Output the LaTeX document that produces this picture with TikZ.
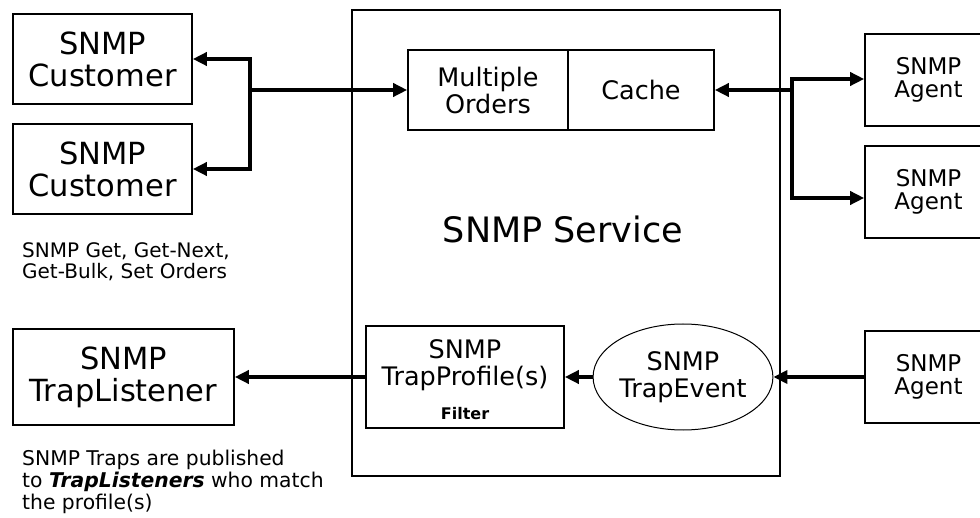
\documentclass[tikz,border=0pt]{standalone}
\usepackage{fontspec}
\setmainfont{DejaVu Sans}
\usetikzlibrary{arrows.meta,shapes.geometric}
\begin{document}
\begin{tikzpicture}[x=1pt,y=-1pt,
  box/.style={draw, line width=1.6pt, inner sep=0pt, align=center},
  big/.style={font=\fontsize{30.5}{32}\selectfont},
  mid/.style={font=\fontsize{25.5}{27}\selectfont},
  agt/.style={font=\fontsize{23}{23}\selectfont},
  note/.style={font=\fontsize{20}{21.5}\selectfont, align=left, anchor=north west, inner sep=0pt},
  conn/.style={line width=3.5pt, -{Triangle[length=14pt,width=13pt]}},
]
\clip (0,0) rectangle (980,518);
\fill[white] (0,0) rectangle (980,518);

\node[box, minimum width=428pt, minimum height=466pt] (svc) at (566,243) {};
\node[font=\fontsize{35}{35}\selectfont, anchor=base] (svct) at (563,243) {SNMP Service};

\node[box,big, minimum width=179pt, minimum height=90pt] (c1) at (102.5,59) {SNMP\\Customer};
\node[box,big, minimum width=179pt, minimum height=90pt] (c2) at (102.5,169) {SNMP\\Customer};
\node[box,big, minimum width=221pt, minimum height=96pt] (tl) at (123.5,377) {SNMP\\TrapListener};

\node[box,mid, minimum width=160pt, minimum height=80pt] (mo) at (488,90) {Multiple\\Orders};
\node[box,mid, minimum width=146pt, minimum height=80pt] (ca) at (641,90) {Cache};

\node[box, minimum width=198pt, minimum height=102pt] (tp) at (465,377) {};
\node[mid, align=center, inner sep=0pt] (tpt) at (465,365) {SNMP\\TrapProfile(s)};
\node[font=\fontsize{16}{16}\selectfont\bfseries, anchor=base, inner sep=0pt] (flt) at (465,420) {Filter};

\node[draw, ellipse, line width=1pt, minimum width=168pt, minimum height=106pt, inner sep=0pt, align=center, mid] (te) at (683,377) {SNMP\\TrapEvent};

\node[box,agt, minimum width=127pt, minimum height=92pt] (a1) at (928.5,80) {SNMP\\Agent};
\node[box,agt, minimum width=127pt, minimum height=92pt] (a2) at (928.5,192) {SNMP\\Agent};
\node[box,agt, minimum width=127pt, minimum height=92pt] (a3) at (928.5,377) {SNMP\\Agent};

\node[note] (n1) at (22,242) {SNMP Get, Get-Next,\\Get-Bulk, Set Orders};
\node[note, font=\fontsize{20.3}{22}\selectfont] (n2) at (22,450) {SNMP Traps are published\\to \textbf{\textit{TrapListeners}} who match\\the profile(s)};

\coordinate (jl) at (250,90);
\draw[conn] (jl) -- (mo.west);
\draw[conn] (jl) |- (c1.east);
\draw[conn] (jl) |- (c2.east);

\coordinate (jr) at (792,90);
\draw[conn] (jr) -- (ca.east);
\draw[conn] (jr) |- ([yshift=1pt]a1.west);
\draw[conn] (jr) |- ([yshift=-6pt]a2.west);

\draw[conn] (a3.west) -- (te.east);
\draw[conn] (te.west) -- (tp.east);
\draw[conn] (tp.west) -- (tl.east);
\end{tikzpicture}
\end{document}
